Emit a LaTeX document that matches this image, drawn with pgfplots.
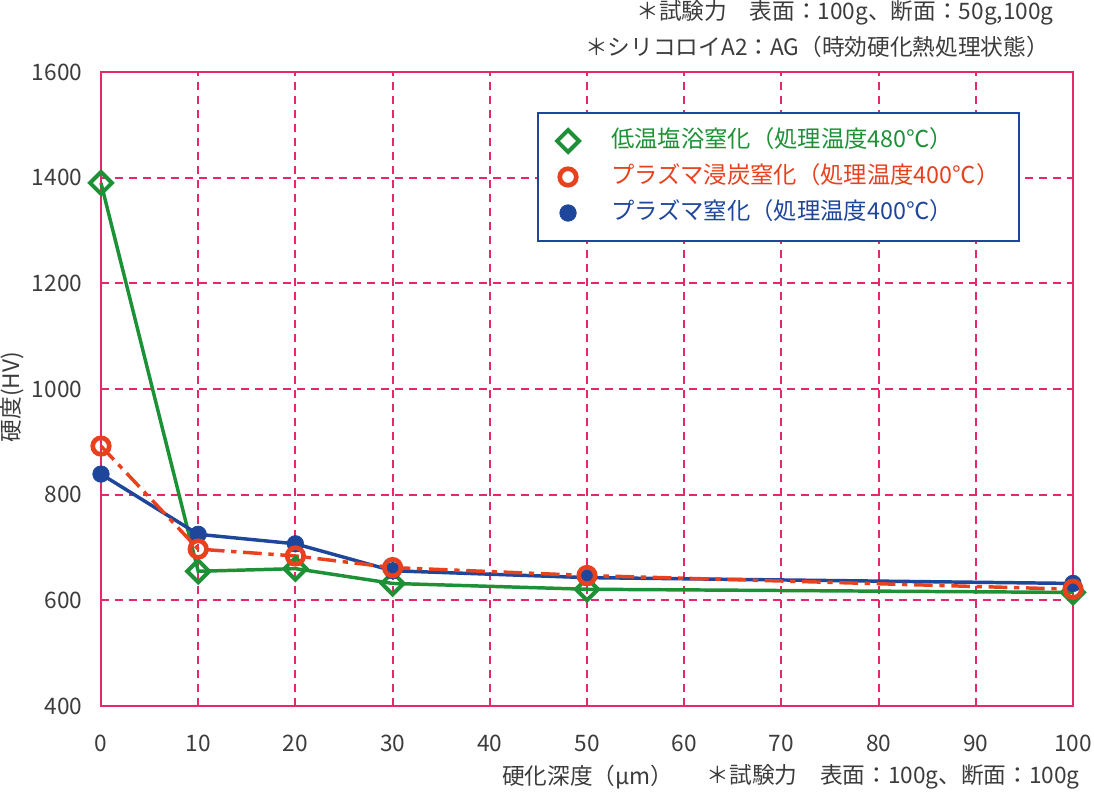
\documentclass[border=0pt]{standalone}
\usepackage{fontspec}
\setmainfont{Noto Sans CJK JP}
\usepackage{pgfplots}
\pgfplotsset{compat=1.18}
\definecolor{pk}{RGB}{230,40,105}
\definecolor{gn}{RGB}{30,145,55}
\definecolor{rd}{RGB}{232,65,30}
\definecolor{bl}{RGB}{30,70,155}
\definecolor{txt}{RGB}{60,60,60}
\begin{document}
\begin{tikzpicture}
\path[use as bounding box] (-75.75pt,-66pt) rectangle (744.75pt,529.5pt);
\begin{axis}[
 scale only axis, width=729pt, height=475.5pt,
 xmin=0, xmax=100, ymin=400, ymax=1600,
 xtick={0,10,...,100}, ytick={400,600,...,1600},
 grid=major,
 major grid style={draw=pk, line width=1.4pt, dash pattern=on 6pt off 4.5pt},
 axis line style={draw=pk, line width=2pt},
 major tick length=0pt,
 tick label style={font=\fontsize{17}{20}\selectfont, text=txt},
 /pgf/number format/assume math mode=true,
 /pgf/number format/set thousands separator={},
 xticklabel style={yshift=-18pt},
 yticklabel style={xshift=-10.5pt},
 clip=false,
 legend cell align=left,
 legend style={at={(0.4486,0.9369)}, anchor=north west, draw=bl, line width=1.5pt, fill=white,
   font=\fontsize{17.5}{21}\selectfont, inner xsep=0pt, inner ysep=12.5pt, row sep=10pt,
   nodes={inner ysep=0pt, inner xsep=15pt, text height=13pt, text depth=4pt}},
 legend image code/.code={\path[draw=none] (0pt,0pt) -- (39.75pt,0pt); \draw[#1] plot coordinates {(22.5pt,0pt)};},
]
\addlegendimage{only marks, line width=3pt, mark=square, mark size=5.8pt, mark options={rotate=45, draw=gn, fill=white, line width=3pt, solid}}
\addlegendentry{\textcolor{gn}{低温塩浴窒化（処理温度480℃）}}
\addlegendimage{only marks, line width=3.5pt, mark=o, mark size=6.2pt, mark options={draw=rd, fill=white, line width=3.5pt, solid}}
\addlegendentry{\textcolor{rd}{プラズマ浸炭窒化（処理温度400℃）}}
\addlegendimage{only marks, line width=0.5pt, mark=*, mark size=6.2pt, mark options={draw=bl, fill=bl, line width=0.5pt, solid}}
\addlegendentry{\textcolor{bl}{プラズマ窒化（処理温度400℃）}}

\addplot[forget plot, draw=gn, line width=2.6pt, mark=square, mark size=5.8pt,
  mark options={rotate=45, draw=gn, fill=white, line width=3pt, solid}]
  coordinates {(0,1390) (10,655) (20,660) (30,632) (50,621) (100,615)};
\addplot[forget plot, draw=bl, line width=2.6pt, mark=*, mark size=6.2pt,
  mark options={draw=bl, fill=bl, line width=0.5pt, solid}]
  coordinates {(0,839) (10,725) (20,707) (30,656) (50,643) (100,632)};
\addplot[forget plot, draw=rd, line width=2.6pt, dash pattern=on 14pt off 5pt on 4pt off 5pt, mark=o, mark size=6.2pt,
  mark options={draw=rd, fill=white, line width=3.5pt, solid}]
  coordinates {(0,892) (10,697) (20,684) (30,662) (50,647) (100,621)};
\end{axis}
\node[anchor=east, text=txt, font=\fontsize{17}{20}\selectfont, inner sep=0pt] at (714.75pt,519.75pt) {＊試験力　表面：100g、断面：50g,100g};
\node[anchor=east, text=txt, font=\fontsize{17}{20}\selectfont, inner sep=0pt] at (711pt,494.25pt) {＊シリコロイA2：AG（時効硬化熱処理状態）};
\node[anchor=west, text=txt, font=\fontsize{17}{20}\selectfont, inner sep=0pt] at (300.75pt,-53.25pt) {硬化深度（μm）};
\node[anchor=east, text=txt, font=\fontsize{17}{20}\selectfont, inner sep=0pt] at (734.25pt,-53.25pt) {＊試験力　表面：100g、断面：100g};
\node[rotate=90, text=txt, font=\fontsize{17}{20}\selectfont, inner sep=0pt] at (-66.75pt,231.75pt) {硬度(HV)};
\end{tikzpicture}
\end{document}
